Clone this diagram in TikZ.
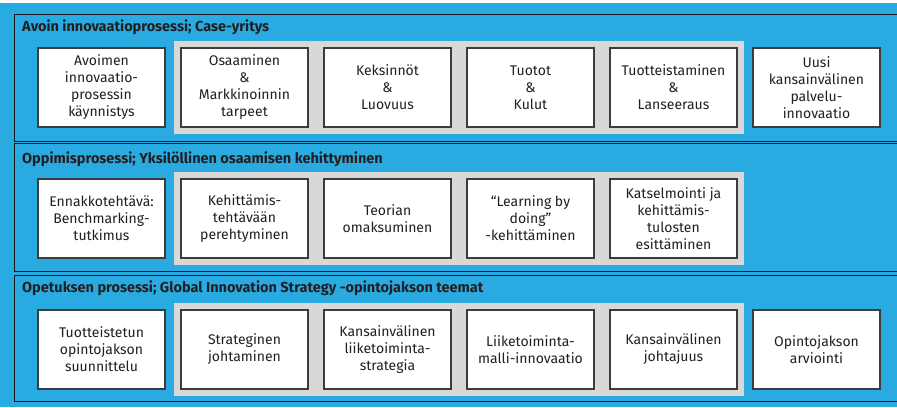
\documentclass[tikz,border=0pt]{standalone}
\usepackage{fontspec}
\setmainfont{Fira Sans}
\usetikzlibrary{fit,backgrounds}
\definecolor{skyblue}{RGB}{41,171,226}
\definecolor{bandgray}{RGB}{217,216,214}
\definecolor{ink}{RGB}{35,31,32}
\definecolor{edge}{RGB}{60,60,60}
\begin{document}
\begin{tikzpicture}[x=1pt,y=-1pt,
  stepbox/.style={draw=edge, line width=1.3pt, fill=white,
    minimum width=127pt, minimum height=79pt, inner sep=2pt,
    align=center, text=ink, font=\fontsize{14}{17}\selectfont},
  band/.style={fill=bandgray, inner sep=6pt},
  panel/.style={draw=black!90, line width=1pt},
  paneltitle/.style={anchor=west, inner sep=0pt, text=ink,
    font=\bfseries\fontsize{14.5}{16}\selectfont}]
\useasboundingbox (0,0) rectangle (897,407);
\clip (0,0) rectangle (897,407);
\begin{scope}[on background layer]
  \fill[skyblue] (0,0) rectangle (897,407);
  \fill[white] (0,0) rectangle (897,3);
\end{scope}

% three process panels, running off the right edge
\draw[panel] (14.5,14.5) rectangle (910,141);
\draw[panel] (14.5,143) rectangle (910,271);
\draw[panel] (14.5,275) rectangle (910,401);

\node[paneltitle] (t1) at (22,27) {Avoin innovaatioprosessi; Case-yritys};
\node[paneltitle] (t2) at (22,159) {Oppimisprosessi; Yksilöllinen osaamisen kehittyminen};
\node[paneltitle] (t3) at (22,288) {Opetuksen prosessi; Global Innovation Strategy -opintojakson teemat};

% row 1
\node[stepbox] (a1) at (101.5,87.5) {Avoimen\\innovaatio-\\prosessin\\käynnistys};
\node[stepbox] (a2) at (244.5,87.5) {Osaaminen\\\&\\Markkinoinnin\\tarpeet};
\node[stepbox] (a3) at (387.5,87.5) {Keksinnöt\\\&\\Luovuus};
\node[stepbox] (a4) at (530.5,87.5) {Tuotot\\\&\\Kulut};
\node[stepbox] (a5) at (673.5,87.5) {Tuotteistaminen\\\&\\Lanseeraus};
\node[stepbox] (a6) at (816.5,87.5) {Uusi\\kansainvälinen\\palvelu-\\innovaatio};

% row 2
\node[stepbox] (b1) at (101.5,218.5) {Ennakkotehtävä:\\Benchmarking-\\tutkimus};
\node[stepbox] (b2) at (244.5,218.5) {Kehittämis-\\tehtävään\\perehtyminen};
\node[stepbox] (b3) at (387.5,218.5) {Teorian\\omaksuminen};
\node[stepbox] (b4) at (530.5,218.5) {“Learning by\\doing”\\-kehittäminen};
\node[stepbox] (b5) at (673.5,218.5) {Katselmointi ja\\kehittämis-\\tulosten\\esittäminen};

% row 3
\node[stepbox] (c1) at (101.5,349.5) {Tuotteistetun\\opintojakson\\suunnittelu};
\node[stepbox] (c2) at (244.5,349.5) {Strateginen\\johtaminen};
\node[stepbox] (c3) at (387.5,349.5) {Kansainvälinen\\liiketoiminta-\\strategia};
\node[stepbox] (c4) at (530.5,349.5) {Liiketoiminta-\\malli-innovaatio};
\node[stepbox] (c5) at (673.5,349.5) {Kansainvälinen\\johtajuus};
\node[stepbox] (c6) at (816.5,349.5) {Opintojakson\\arviointi};

% grey bands behind the core steps
\begin{scope}[on background layer]
  \node[band, fit=(a2)(a5)] (ba) {};
  \node[band, fit=(b2)(b5)] (bb) {};
  \node[band, fit=(c2)(c5)] (bc) {};
\end{scope}
\end{tikzpicture}
\end{document}
